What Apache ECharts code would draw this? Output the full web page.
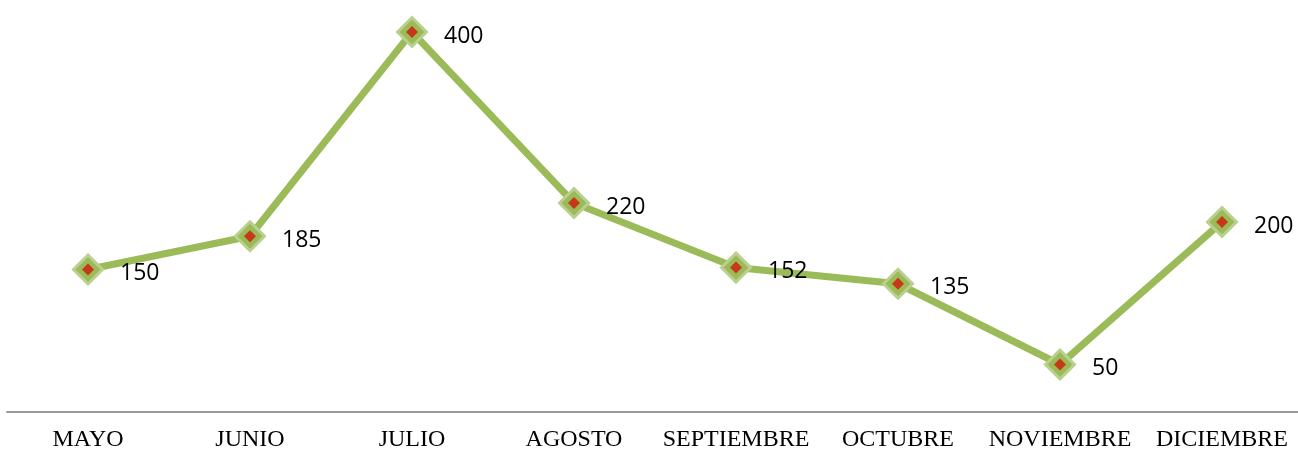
<!DOCTYPE html>
<html><head><meta charset="utf-8">
<script src="https://cdn.jsdelivr.net/npm/echarts@6/dist/echarts.min.js"></script>
<style>html,body{margin:0;padding:0;background:#fff;overflow:hidden;width:1298px;height:452px}#c{width:1303px;height:452px}</style>
</head><body><div id="c"></div>
<script>
const categories = ['MAYO','JUNIO','JULIO','AGOSTO','SEPTIEMBRE','OCTUBRE','NOVIEMBRE','DICIEMBRE'];
const values = [150,185,400,220,152,135,50,200];

const chart = echarts.init(document.getElementById('c'), null, {renderer:'canvas'});
chart.setOption({
  animation:false,
  grid:{left:7,right:0,top:32,bottom:39.5},
  xAxis:{type:'category',data:categories,boundaryGap:true,
    axisLine:{lineStyle:{color:'#999999',width:2}},
    axisTick:{show:false},
    axisLabel:{interval:0,color:'#000',fontFamily:'Liberation Serif',fontSize:24,margin:16}},
  yAxis:{type:'value',min:0,max:400,show:false,splitLine:{show:false}},
  series:[
    {type:'line',data:values,z:2,
     lineStyle:{color:'#9BBB59',width:7},
     symbol:'diamond',symbolSize:29,
     itemStyle:{color:'#9BBB59',borderColor:'#b9d08e',borderWidth:3},
     label:{show:true,position:'right',distance:16,offset:[0,4],color:'#000',fontFamily:'Open Sans',fontSize:23}},
    {type:'scatter',data:values,z:3,symbol:'diamond',symbolSize:12,
     itemStyle:{color:'#D2180A'},silent:true}
  ]
});
</script></body></html>
